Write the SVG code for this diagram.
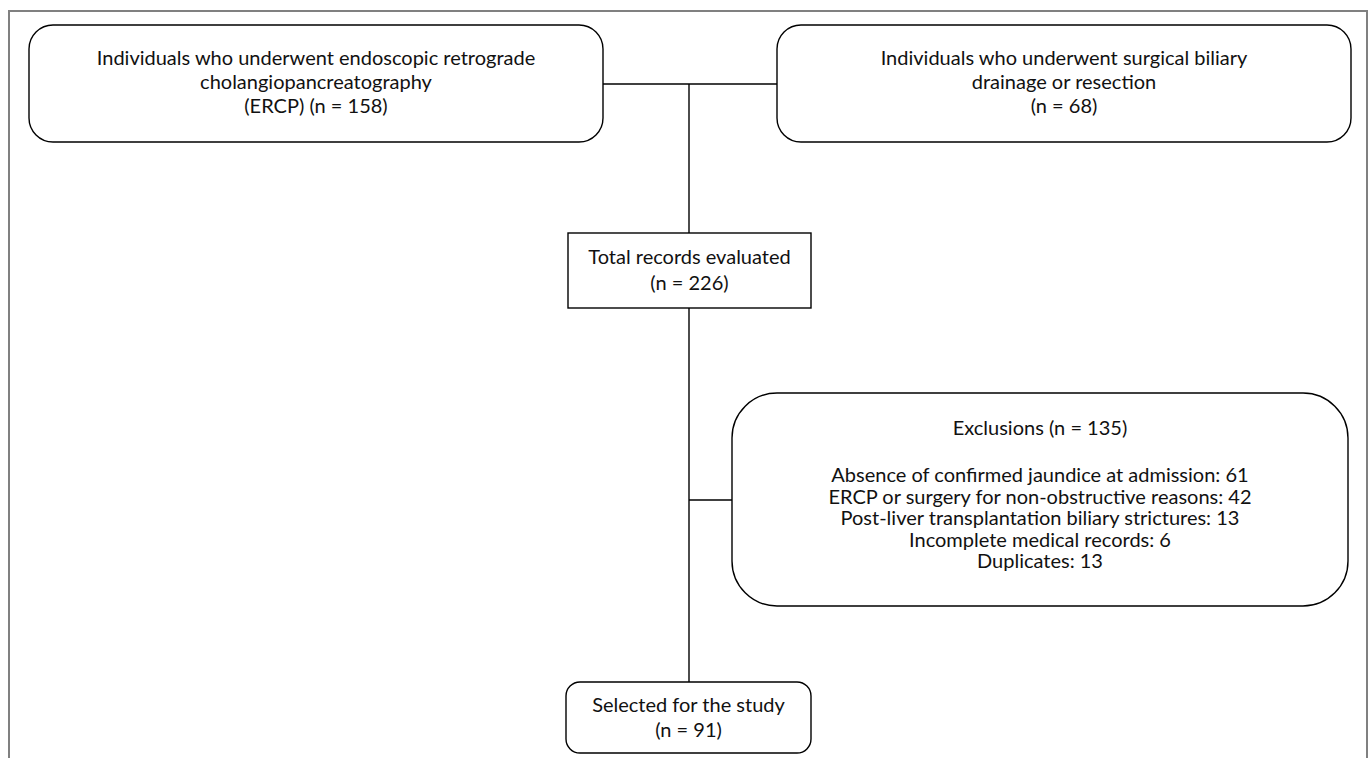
<svg xmlns="http://www.w3.org/2000/svg" width="1371" height="758" viewBox="0 0 1371 758">
<style>
.frame{fill:none;stroke:#808080;stroke-width:2}
.box{fill:#fff;stroke:#000;stroke-width:1.4}
.conn line{stroke:#000;stroke-width:1.4}
text{font-family:Lato,"Open Sans",sans-serif;font-size:20px;fill:#111;text-anchor:middle}
</style>
<rect width="1371" height="758" fill="#fff"/>
<path class="frame" d="M9,759 V11 H1367 V759"/>
<g id="connectors" class="conn">
<line x1="603" y1="84" x2="777" y2="84"/>
<line x1="689" y1="84" x2="689" y2="233"/>
<line x1="689" y1="308" x2="689" y2="682"/>
<line x1="689" y1="500" x2="732" y2="500"/>
</g>
<g id="ercp">
<rect class="box" x="29" y="25" width="574" height="117" rx="24"/>
<text x="316" y="65">Individuals who underwent endoscopic retrograde</text>
<text x="316" y="89">cholangiopancreatography</text>
<text x="316" y="113">(ERCP) (n = 158)</text>
</g>
<g id="surgical">
<rect class="box" x="777" y="25" width="574" height="117" rx="24"/>
<text x="1064" y="65">Individuals who underwent surgical biliary</text>
<text x="1064" y="89">drainage or resection</text>
<text x="1064" y="113">(n = 68)</text>
</g>
<g id="total">
<rect class="box" x="568" y="233" width="243" height="75"/>
<text x="689.5" y="264">Total records evaluated</text>
<text x="689.5" y="290">(n = 226)</text>
</g>
<g id="exclusions">
<rect class="box" x="732" y="393" width="616" height="213" rx="45"/>
<text x="1040" y="435">Exclusions (n = 135)</text>
<text x="1040" y="482">Absence of confirmed jaundice at admission: 61</text>
<text x="1040" y="503.5">ERCP or surgery for non-obstructive reasons: 42</text>
<text x="1040" y="525">Post-liver transplantation biliary strictures: 13</text>
<text x="1040" y="546.5">Incomplete medical records: 6</text>
<text x="1040" y="568">Duplicates: 13</text>
</g>
<g id="selected">
<rect class="box" x="566" y="682" width="245" height="71" rx="14"/>
<text x="688.5" y="712">Selected for the study</text>
<text x="688.5" y="737">(n = 91)</text>
</g>
</svg>
